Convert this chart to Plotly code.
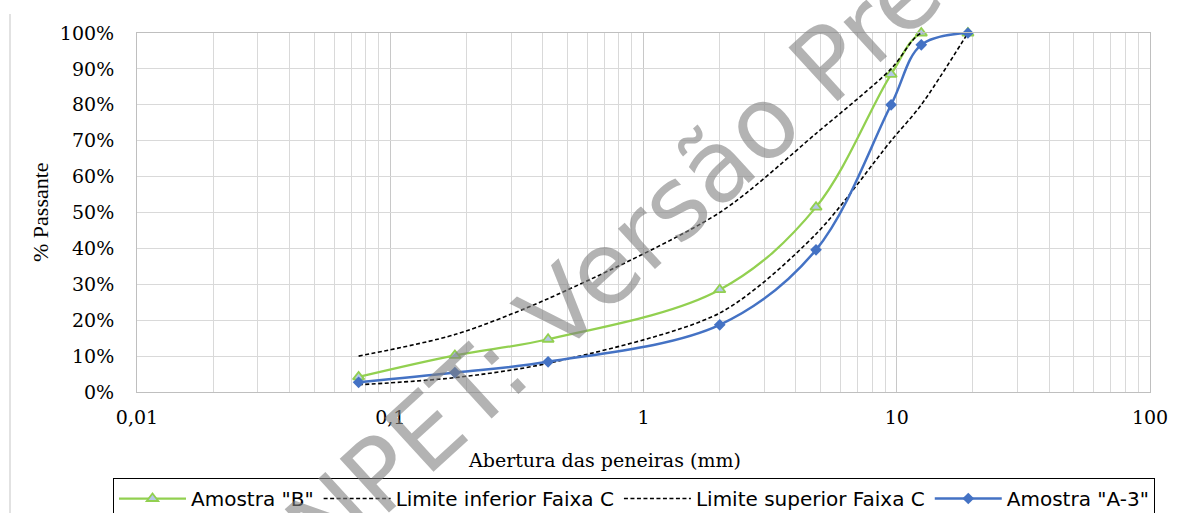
import plotly.graph_objects as go

# ---- data ----
sieve_mm = [0.075, 0.18, 0.42, 2.0, 4.8, 9.5, 12.5, 19.1]
amostra_b = [4.2, 10.2, 14.7, 28.5, 51.5, 88.5, 100, 100]
limite_inf = [2, 4, 8, 22, 44, 70, 80, 100]
limite_sup = [10, 16, 26, 50, 72, 90, 100, 100]
amostra_a3 = [2.7, 5.4, 8.4, 18.7, 39.6, 80, 96.7, 100]

x_tickvals = [0.01, 0.1, 1, 10, 100]
x_ticktext = ["0,01", "0,1", "1", "10", "100"]
y_tickvals = [0, 10, 20, 30, 40, 50, 60, 70, 80, 90, 100]
y_ticktext = [f"{v}%" for v in y_tickvals]

minor_vals = [m * 10 ** e for e in (-2, -1, 0, 1) for m in range(2, 10)]

serif = "DejaVu Serif, Liberation Serif, serif"
sans = "DejaVu Sans, Liberation Sans, sans-serif"

PL, PR, PT, PB = 137, 1150, 33, 392
W, H = 1182, 513
pw, ph = PR - PL, PB - PT


def px(x):
    return (x - PL) / pw


def py(y):
    return (PB - y) / ph


fig = go.Figure()
fig.add_trace(go.Scatter(
    x=sieve_mm, y=amostra_b, name='Amostra "B"', mode="lines+markers",
    line=dict(color="#92D050", width=2.25, shape="spline", smoothing=1.0),
    marker=dict(symbol="triangle-up", size=10, color="#B4C7E7",
                line=dict(color="#92D050", width=1.8)),
    cliponaxis=False))
fig.add_trace(go.Scatter(
    x=sieve_mm, y=limite_inf, name="Limite inferior Faixa C", mode="lines",
    line=dict(color="black", width=1.6, dash="4px,2.5px", shape="spline", smoothing=0.8),
    cliponaxis=False))
fig.add_trace(go.Scatter(
    x=sieve_mm, y=limite_sup, name="Limite superior Faixa C", mode="lines",
    line=dict(color="black", width=1.6, dash="4px,2.5px", shape="spline", smoothing=0.8),
    cliponaxis=False))
fig.add_trace(go.Scatter(
    x=sieve_mm, y=amostra_a3, name='Amostra "A-3"', mode="lines+markers",
    line=dict(color="#4472C4", width=2.5, shape="spline", smoothing=1.0),
    marker=dict(symbol="diamond", size=9, color="#4472C4"),
    cliponaxis=False))

fig.update_layout(
    width=W, height=H,
    margin=dict(l=PL, r=W - PR, t=PT, b=H - PB, autoexpand=False),
    paper_bgcolor="white", plot_bgcolor="white",
    showlegend=True,
    legend=dict(orientation="h", x=px(113), y=py(478), xanchor="left", yanchor="top",
                bordercolor="black", borderwidth=1, bgcolor="white",
                font=dict(family=sans, size=20, color="black"),
                itemwidth=67, tracegroupgap=0),
    xaxis=dict(type="log", range=[-2, 2], tickvals=x_tickvals, ticktext=x_ticktext,
               showgrid=True, gridcolor="#C8C8C8", gridwidth=1,
               minor=dict(tickvals=minor_vals, showgrid=True, gridcolor="#D9D9D9", gridwidth=1),
               showline=True, linecolor="#BFBFBF", linewidth=1, mirror=True,
               ticks="", ticklabelstandoff=8, zeroline=False, automargin=False,
               tickfont=dict(family=serif, size=19, color="black")),
    yaxis=dict(range=[0, 100], tickvals=y_tickvals, ticktext=y_ticktext,
               showgrid=True, gridcolor="#D9D9D9", gridwidth=1,
               showline=True, linecolor="#BFBFBF", linewidth=1, mirror=True,
               ticks="", ticklabelstandoff=18, zeroline=False, automargin=False,
               tickfont=dict(family=serif, size=19, color="black")),
    annotations=[
        dict(text="Abertura das peneiras (mm)", xref="paper", yref="paper",
             x=px(604), y=py(460), xanchor="center", yanchor="middle",
             showarrow=False, font=dict(family=serif, size=19, color="black")),
        dict(text="% Passante", xref="paper", yref="paper",
             x=px(40), y=py(212), xanchor="center", yanchor="middle",
             textangle=-90, showarrow=False,
             font=dict(family="Liberation Serif, serif", size=22, color="black")),
        dict(text="ANPET: Versão Preliminar", xref="paper", yref="paper",
             x=px(717), y=py(166), xanchor="center", yanchor="middle",
             textangle=-42.5, showarrow=False,
             font=dict(family="DejaVu Sans, sans-serif", size=100,
                       color="rgba(128,128,128,0.6)")),
    ],
    shapes=[dict(type="line", xref="paper", yref="paper",
                 x0=px(10), x1=px(10), y0=py(14), y1=py(520),
                 line=dict(color="#D9D9D9", width=1.5))],
)

fig.write_html("out.html",
               config={"displayModeBar": False},
               post_script="document.body.style.margin='0px';"
                           "document.body.style.padding='0px';"
                           "document.body.style.overflow='hidden';")
